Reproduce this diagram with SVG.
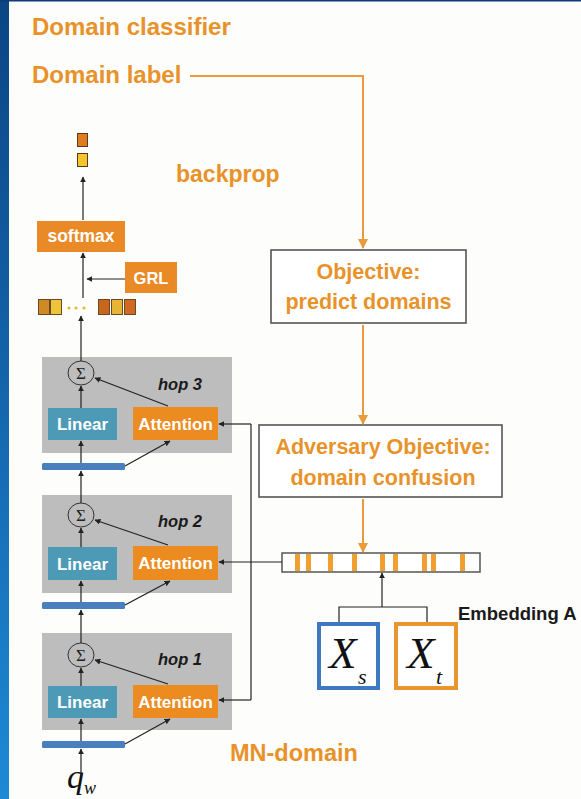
<svg xmlns="http://www.w3.org/2000/svg" width="581" height="799" viewBox="0 0 581 799">
<defs>
  <linearGradient id="strip" x1="0" y1="0" x2="0" y2="1">
    <stop offset="0" stop-color="#0b4583"/>
    <stop offset="0.5" stop-color="#1466ad"/>
    <stop offset="1" stop-color="#1d8ad6"/>
  </linearGradient>
  <marker id="ab" viewBox="0 0 10 10" refX="9" refY="5" markerWidth="6" markerHeight="6" markerUnits="userSpaceOnUse" orient="auto">
    <path d="M0,0 L10,5 L0,10 z" fill="#222"/>
  </marker>
  <marker id="ao" viewBox="0 0 10 10" refX="9" refY="5" markerWidth="10" markerHeight="10" markerUnits="userSpaceOnUse" orient="auto">
    <path d="M0,0 L10,5 L0,10 z" fill="#ec9a3a"/>
  </marker>
  <style>
    .ot{font-family:"Liberation Sans",Arial,sans-serif;font-weight:bold;fill:#e8922a}
    .wt{font-family:"Liberation Sans",Arial,sans-serif;font-weight:bold;fill:#ffffff;text-anchor:middle}
    .hop{fill:#bdbdbd}
    .lin{fill:#4d9ab6}
    .att{fill:#eb8b20}
    .bar{fill:#4a7fbf}
    .hl{font-family:"Liberation Sans",Arial,sans-serif;font-weight:bold;font-style:italic;font-size:16.5px;fill:#1a1a1a}
    .sig{fill:none;stroke:#333;stroke-width:1}
    .sg{font-family:"Liberation Serif","DejaVu Serif",serif;font-size:17px;fill:#222;text-anchor:middle}
    .bk{stroke:#222;stroke-width:1.2;fill:none}
    .og{stroke:#ec9a3a;stroke-width:2;fill:none}
    .obox{fill:#ffffff;stroke:#555;stroke-width:1.6}
    .mx{font-family:"Liberation Serif","Times New Roman",serif;font-style:italic;fill:#111}
  </style>
</defs>
<rect x="0" y="0" width="581" height="799" fill="#fdfdfb"/>
<rect x="0" y="0" width="9" height="799" fill="url(#strip)"/>
<rect x="0" y="0" width="581" height="1.5" fill="#0a3d7a"/>

<g id="title">
  <text class="ot" x="32" y="35" font-size="24">Domain classifier</text>
</g>
<g id="domain-label">
  <text class="ot" x="32" y="83" font-size="24">Domain label</text>
</g>
<g id="backprop">
  <text class="ot" x="176" y="182" font-size="23">backprop</text>
</g>
<g id="mn-domain">
  <text class="ot" x="230" y="761" font-size="23.5">MN-domain</text>
</g>

<g id="output">
  <rect x="77.5" y="133.5" width="10" height="13" fill="#e07b22" stroke="#5a3a20" stroke-width="1"/>
  <rect x="77.5" y="153.5" width="10" height="13" fill="#f2c62a" stroke="#5a3a20" stroke-width="1"/>
</g>

<g id="softmax">
  <rect x="37" y="221" width="88" height="31" fill="#e98a26"/>
  <text class="wt" x="81" y="242" font-size="17.5">softmax</text>
</g>

<g id="grl">
  <rect x="125" y="262" width="52" height="31" fill="#e98a26"/>
  <text class="wt" x="151" y="283.5" font-size="16.5">GRL</text>
</g>

<g id="features">
  <rect x="38.5" y="299.5" width="11" height="15" fill="#cf8a25" stroke="#6a4a20" stroke-width="1"/>
  <rect x="50.5" y="299.5" width="11" height="15" fill="#eec43a" stroke="#6a4a20" stroke-width="1"/>
  <circle cx="69" cy="308" r="1.6" fill="#f0b030"/>
  <circle cx="76" cy="308" r="1.6" fill="#f0b030"/>
  <circle cx="84" cy="308" r="1.6" fill="#f0b030"/>
  <rect x="98.5" y="299.5" width="11" height="15" fill="#c8661e" stroke="#6a4a20" stroke-width="1"/>
  <rect x="111.5" y="299.5" width="11" height="15" fill="#e8b436" stroke="#6a4a20" stroke-width="1"/>
  <rect x="124.5" y="299.5" width="11" height="15" fill="#d06a22" stroke="#6a4a20" stroke-width="1"/>
</g>

<g id="hop3">
  <rect class="hop" x="42" y="357" width="190" height="96"/>
  <ellipse class="sig" cx="81" cy="373" rx="13" ry="12"/>
  <text class="sg" x="81" y="379">Σ</text>
  <text class="hl" x="158" y="390">hop 3</text>
  <rect class="lin" x="48" y="408" width="69" height="32"/>
  <text class="wt" x="82.5" y="430" font-size="17">Linear</text>
  <rect class="att" x="133" y="407" width="85" height="33"/>
  <text class="wt" x="175.5" y="429.5" font-size="17">Attention</text>
  <rect class="bar" x="42" y="463" width="83" height="7" rx="1.5"/>
</g>

<g id="hop2">
  <rect class="hop" x="42" y="495" width="190" height="98"/>
  <ellipse class="sig" cx="81" cy="515" rx="13" ry="12"/>
  <text class="sg" x="81" y="521">Σ</text>
  <text class="hl" x="158" y="527">hop 2</text>
  <rect class="lin" x="48" y="547" width="69" height="33"/>
  <text class="wt" x="82.5" y="569.5" font-size="17">Linear</text>
  <rect class="att" x="133" y="546" width="85" height="34"/>
  <text class="wt" x="175.5" y="569" font-size="17">Attention</text>
  <rect class="bar" x="42" y="602" width="83" height="7" rx="1.5"/>
</g>

<g id="hop1">
  <rect class="hop" x="42" y="633" width="190" height="97"/>
  <ellipse class="sig" cx="81" cy="655" rx="13" ry="12"/>
  <text class="sg" x="81" y="661">Σ</text>
  <text class="hl" x="158" y="665">hop 1</text>
  <rect class="lin" x="48" y="686" width="69" height="32"/>
  <text class="wt" x="82.5" y="708" font-size="17">Linear</text>
  <rect class="att" x="133" y="685" width="85" height="33"/>
  <text class="wt" x="175.5" y="707.5" font-size="17">Attention</text>
  <rect class="bar" x="42" y="741" width="83" height="7" rx="1.5"/>
</g>

<g id="qw">
  <text class="mx" x="67" y="788" font-size="34">q<tspan font-size="18" dy="6">w</tspan></text>
</g>

<g id="objective">
  <rect class="obox" x="271" y="250" width="195" height="73"/>
  <text class="ot" x="368.5" y="279" font-size="21.5" text-anchor="middle">Objective:</text>
  <text class="ot" x="368.5" y="309" font-size="21.5" text-anchor="middle">predict domains</text>
</g>

<g id="adversary">
  <rect class="obox" x="259" y="425" width="243" height="72"/>
  <text class="ot" x="383" y="454" font-size="21.5" text-anchor="middle">Adversary Objective:</text>
  <text class="ot" x="383" y="485" font-size="21.5" text-anchor="middle">domain confusion</text>
</g>

<g id="embedding">
  <rect x="282" y="553" width="198" height="19" fill="#ffffff" stroke="#555" stroke-width="1.5"/>
  <g fill="#f0a030">
    <rect x="295" y="554" width="5" height="17"/>
    <rect x="306" y="554" width="5" height="17"/>
    <rect x="328" y="554" width="5" height="17"/>
    <rect x="352" y="554" width="5" height="17"/>
    <rect x="380" y="554" width="5" height="17"/>
    <rect x="393" y="554" width="5" height="17"/>
    <rect x="422" y="554" width="5" height="17"/>
    <rect x="431" y="554" width="5" height="17"/>
    <rect x="460" y="554" width="5" height="17"/>
  </g>
  <text x="458" y="620" font-family="'Liberation Sans',Arial,sans-serif" font-weight="bold" font-size="18.5" fill="#1a1a1a">Embedding A</text>
</g>

<g id="xs">
  <rect x="319" y="624" width="59" height="64" fill="#ffffff" stroke="#3c79c0" stroke-width="4"/>
  <text class="mx" x="329" y="668" font-size="45">X</text>
  <text class="mx" x="358" y="684" font-size="22">s</text>
</g>
<g id="xt">
  <rect x="396" y="624" width="60" height="64" fill="#ffffff" stroke="#ea9630" stroke-width="4"/>
  <text class="mx" x="407" y="668" font-size="45">X</text>
  <text class="mx" x="436" y="684" font-size="22">t</text>
</g>

<g id="connectors">
  <line class="bk" x1="83" y1="220" x2="83" y2="177" marker-end="url(#ab)"/>
  <line class="bk" x1="83" y1="298" x2="83" y2="253" marker-end="url(#ab)"/>
  <line class="bk" x1="125" y1="279" x2="87" y2="279" marker-end="url(#ab)"/>
  <line class="bk" x1="81" y1="361" x2="81" y2="316" marker-end="url(#ab)"/>
  <line class="bk" x1="81" y1="408" x2="81" y2="386" marker-end="url(#ab)"/>
  <line class="bk" x1="168" y1="406" x2="95" y2="378" marker-end="url(#ab)"/>
  <line class="bk" x1="81" y1="463" x2="81" y2="441" marker-end="url(#ab)"/>
  <line class="bk" x1="125" y1="466" x2="170" y2="441" marker-end="url(#ab)"/>
  <line class="bk" x1="81" y1="503" x2="81" y2="471" marker-end="url(#ab)"/>
  <line class="bk" x1="81" y1="547" x2="81" y2="528" marker-end="url(#ab)"/>
  <line class="bk" x1="168" y1="545" x2="95" y2="520" marker-end="url(#ab)"/>
  <line class="bk" x1="81" y1="602" x2="81" y2="581" marker-end="url(#ab)"/>
  <line class="bk" x1="125" y1="605" x2="170" y2="581" marker-end="url(#ab)"/>
  <line class="bk" x1="81" y1="643" x2="81" y2="610" marker-end="url(#ab)"/>
  <line class="bk" x1="81" y1="686" x2="81" y2="668" marker-end="url(#ab)"/>
  <line class="bk" x1="168" y1="684" x2="95" y2="660" marker-end="url(#ab)"/>
  <line class="bk" x1="81" y1="741" x2="81" y2="719" marker-end="url(#ab)"/>
  <line class="bk" x1="125" y1="744" x2="170" y2="719" marker-end="url(#ab)"/>
  <line class="bk" x1="81" y1="776" x2="81" y2="749" marker-end="url(#ab)"/>
  <path class="bk" d="M251,424 V700"/>
  <line class="bk" x1="251" y1="424" x2="219" y2="424" marker-end="url(#ab)"/>
  <line class="bk" x1="282" y1="562" x2="219" y2="562" marker-end="url(#ab)"/>
  <line class="bk" x1="251" y1="700" x2="219" y2="700" marker-end="url(#ab)"/>
  <line class="bk" x1="382" y1="607" x2="382" y2="573" marker-end="url(#ab)"/>
  <path class="bk" d="M339,622 V607 H427 V622"/>
  <path class="og" d="M190,76 H363 V248" marker-end="url(#ao)"/>
  <line class="og" x1="363" y1="325" x2="363" y2="424" marker-end="url(#ao)"/>
  <line class="og" x1="363" y1="499" x2="363" y2="552" marker-end="url(#ao)"/>
</g>
</svg>
